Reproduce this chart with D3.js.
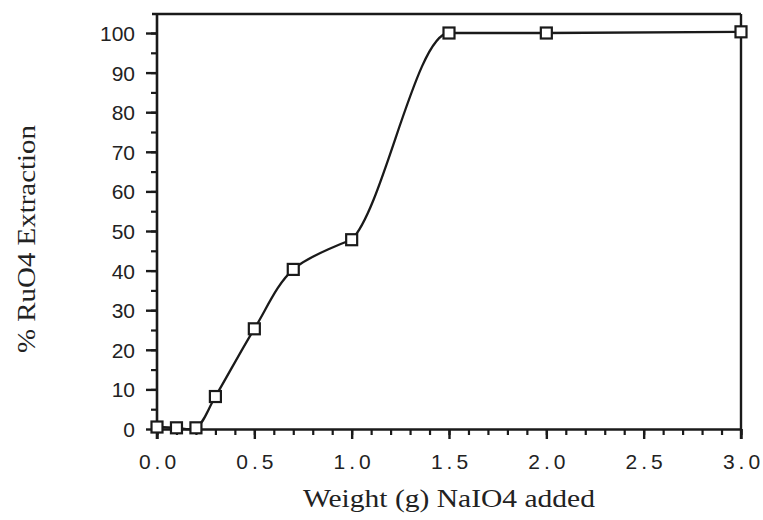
<!DOCTYPE html>
<html>
<head>
<meta charset="utf-8">
<script src="https://cdn.jsdelivr.net/npm/d3@7"></script>
<style>
  html, body { margin: 0; padding: 0; background: #fff; }
  svg { display: block; }
</style>
</head>
<body>
<svg id="chart" width="763" height="520"></svg>
<script>
// ---- data ----
const weights = [0.0, 0.1, 0.2, 0.3, 0.5, 0.7, 1.0, 1.5, 2.0, 3.0];
const extraction = [0.5, 0.3, 0.3, 8.2, 25.3, 40.3, 47.8, 100.0, 100.0, 100.3];
const xMajorTicks = [0.0, 0.5, 1.0, 1.5, 2.0, 2.5, 3.0];
const yMajorTicks = [0, 10, 20, 30, 40, 50, 60, 70, 80, 90, 100];
const xLabel = "Weight (g) NaIO4 added";
const yLabel = "% RuO4 Extraction";

// ---- layout ----
const svg = d3.select("#chart");
const ink = "#1a1a1a";
const x = d3.scaleLinear().domain([0, 3]).range([157, 741]);
const y = d3.scaleLinear().domain([0, 104.8]).range([429, 14]);

const xMinor = d3.range(0, 3.0001, 0.1).map(v => +v.toFixed(1));
const yMinor = d3.range(0, 100.0001, 5);

// x axis minor
svg.append("g").attr("transform", `translate(0,${y(0)})`)
  .call(d3.axisBottom(x).tickValues(xMinor).tickSize(6).tickFormat(""))
  .call(g => { g.select(".domain").remove(); g.selectAll("line").attr("stroke", ink).attr("stroke-width", 2.2); });
// x axis major
svg.append("g").attr("transform", `translate(0,${y(0)})`)
  .call(d3.axisBottom(x).tickValues(xMajorTicks).tickSize(10).tickSizeOuter(0).tickPadding(15).tickFormat(d3.format(".1f")))
  .call(g => {
    g.select(".domain").attr("stroke", ink).attr("stroke-width", 2.6);
    g.selectAll("line").attr("stroke", ink).attr("stroke-width", 2.4);
    g.selectAll("text").attr("fill", "#222").attr("font-family", "'Liberation Sans', Arial, sans-serif")
      .attr("font-size", 21).style("letter-spacing", "4px").attr("dx", 2);
  });

// y axis minor
svg.append("g").attr("transform", `translate(${x(0)},0)`)
  .call(d3.axisLeft(y).tickValues(yMinor).tickSize(6).tickFormat(""))
  .call(g => { g.select(".domain").remove(); g.selectAll("line").attr("stroke", ink).attr("stroke-width", 2.2); });
// y axis major
svg.append("g").attr("transform", `translate(${x(0)},0)`)
  .call(d3.axisLeft(y).tickValues(yMajorTicks).tickSize(11).tickSizeOuter(0).tickPadding(11).tickFormat(d3.format("d")))
  .call(g => {
    g.select(".domain").remove();
    g.selectAll("line").attr("stroke", ink).attr("stroke-width", 2.4);
    g.selectAll("text").attr("fill", "#222").attr("font-family", "'Liberation Sans', Arial, sans-serif")
      .attr("font-size", 21).attr("dy", "0.36em");
  });

// frame: left axis line, top line, right line
svg.append("line").attr("x1", x(0)).attr("x2", x(0)).attr("y1", y(104.8)).attr("y2", y(0) + 10)
  .attr("stroke", ink).attr("stroke-width", 2.6);
svg.append("line").attr("x1", x(0) - 5).attr("x2", x(3)).attr("y1", y(104.8)).attr("y2", y(104.8))
  .attr("stroke", ink).attr("stroke-width", 2.4);
svg.append("line").attr("x1", x(3)).attr("x2", x(3)).attr("y1", y(104.8)).attr("y2", y(0) + 10)
  .attr("stroke", ink).attr("stroke-width", 2.4);

// curve: smooth spline up to 1.0, monotone (flat top) from 1.0 onward
const pts = weights.map((w, i) => [w, extraction[i]]);
const lineGen = d3.line().x(d => x(d[0])).y(d => y(d[1]));
svg.append("path").datum(pts.filter(d => d[0] <= 1.0))
  .attr("d", lineGen.curve(d3.curveCatmullRom.alpha(0.5)))
  .attr("fill", "none").attr("stroke", ink).attr("stroke-width", 2.3);

svg.append("clipPath").attr("id", "clipRight")
  .append("rect").attr("x", x(1.0)).attr("y", 0).attr("width", x(3) - x(1.0) + 20).attr("height", 520);
svg.append("path").datum(pts.filter(d => d[0] >= 0.7))
  .attr("clip-path", "url(#clipRight)")
  .attr("d", lineGen.curve(d3.curveMonotoneX))
  .attr("fill", "none").attr("stroke", ink).attr("stroke-width", 2.3);

// markers
const s = 11;
svg.append("g").selectAll("rect").data(pts).join("rect")
  .attr("x", d => x(d[0]) - s / 2).attr("y", d => y(d[1]) - s / 2)
  .attr("width", s).attr("height", s)
  .attr("fill", "#fff").attr("stroke", ink).attr("stroke-width", 2.2);

// axis titles
svg.append("text").attr("x", (x(0) + x(3)) / 2).attr("y", 507)
  .attr("text-anchor", "middle").attr("fill", "#222")
  .attr("font-family", "'Liberation Serif', 'Times New Roman', serif").attr("font-size", 25)
  .attr("textLength", 292).attr("lengthAdjust", "spacingAndGlyphs")
  .text(xLabel);
svg.append("text").attr("transform", `translate(35,239) rotate(-90)`)
  .attr("text-anchor", "middle").attr("fill", "#222")
  .attr("font-family", "'Liberation Serif', 'Times New Roman', serif").attr("font-size", 25)
  .attr("textLength", 228).attr("lengthAdjust", "spacingAndGlyphs")
  .text(yLabel);
</script>
</body>
</html>
